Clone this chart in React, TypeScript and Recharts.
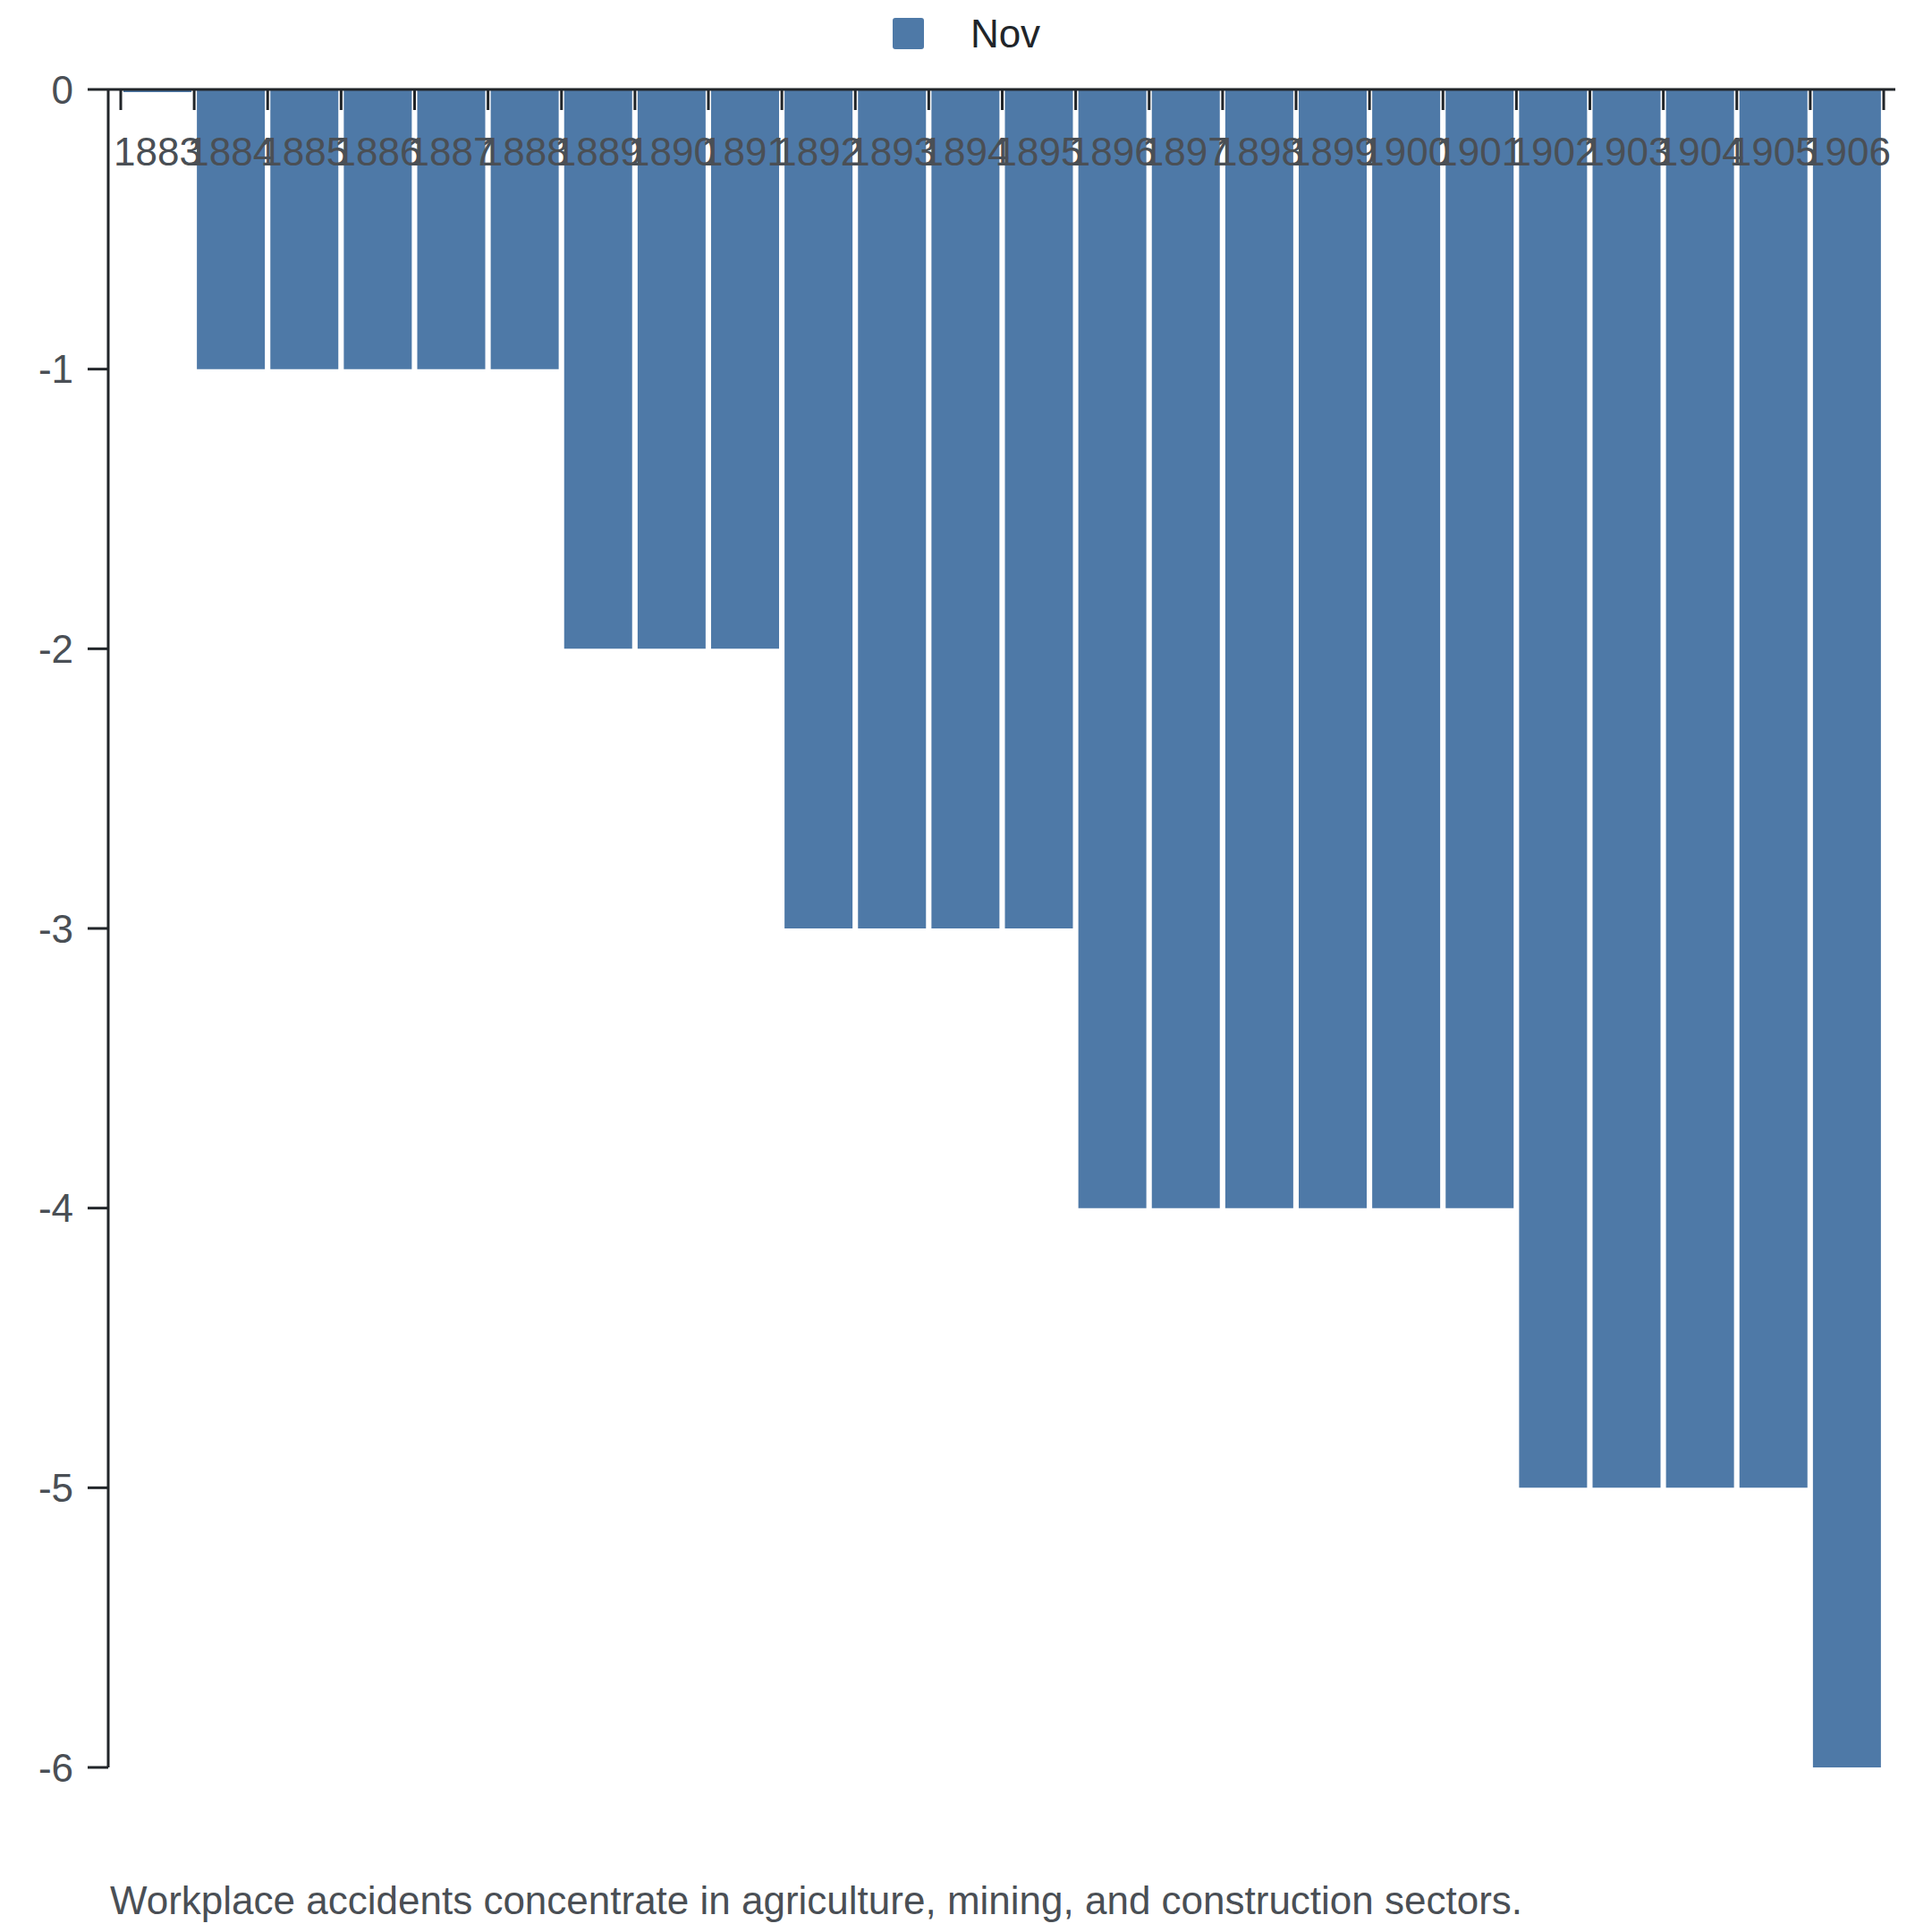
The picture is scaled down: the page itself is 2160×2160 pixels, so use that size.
import React from "react";
import { BarChart, Bar, XAxis, YAxis, Legend } from "recharts";

const years = [
  "1883", "1884", "1885", "1886", "1887", "1888", "1889", "1890",
  "1891", "1892", "1893", "1894", "1895", "1896", "1897", "1898",
  "1899", "1900", "1901", "1902", "1903", "1904", "1905", "1906",
];
const novValues = [
  0, -1, -1, -1, -1, -1, -2, -2, -2, -3, -3, -3, -3, -4, -4, -4, -4, -4, -4,
  -5, -5, -5, -5, -6,
];
const yTicks = [0, -1, -2, -3, -4, -5, -6];

const data = years.map((year, i) => ({ year, Nov: novValues[i] }));

const FONT = "'Liberation Sans', Arial, Helvetica, sans-serif";
const AXIS = "#212529";
const TEXT = "#4a4f55";
const BLUE = "#4e79a7";

/** Tick marks sit on the band edges; the year is centred on the band below the axis. */
function YearTick(props: any) {
  const { x, y, payload, index } = props;
  const half = payload?.offset || 41;
  const last = index === years.length - 1;
  return (
    <g>
      <line x1={x - half} x2={x - half} y1={y} y2={y + 23} stroke={AXIS} strokeWidth={3} />
      {last && (
        <line x1={x + half} x2={x + half} y1={y} y2={y + 23} stroke={AXIS} strokeWidth={3} />
      )}
      <text x={x} y={y + 85} textAnchor="middle" fill={TEXT} fontSize={44} fontFamily={FONT}>
        {payload.value}
      </text>
    </g>
  );
}

function NovLegend() {
  return (
    <div
      style={{
        display: "flex",
        alignItems: "center",
        justifyContent: "center",
        height: 71,
        paddingLeft: 42,
        boxSizing: "border-box",
        fontFamily: FONT,
      }}
    >
      <span
        style={{ width: 35, height: 35, borderRadius: 3, background: BLUE, display: "inline-block" }}
      />
      <span style={{ marginLeft: 52, fontSize: 44, color: AXIS }}>Nov</span>
    </div>
  );
}

export default function App() {
  return (
    <div
      style={{
        position: "absolute",
        left: 0,
        top: 0,
        width: 2160,
        height: 2160,
        background: "#fff",
        fontFamily: FONT,
      }}
    >
      <BarChart
        width={2160}
        height={2160}
        data={data}
        margin={{ top: 2, right: 41, bottom: 184, left: 0 }}
        barCategoryGap={3}
        style={{ fontFamily: FONT }}
      >
        <Legend verticalAlign="top" align="center" content={<NovLegend />} />
        <YAxis
          type="number"
          domain={[-6, 0]}
          ticks={yTicks}
          width={121}
          axisLine={{ stroke: AXIS, strokeWidth: 3 }}
          tickLine={{ stroke: AXIS, strokeWidth: 3 }}
          tickSize={23}
          tickMargin={16}
          tick={{ fill: TEXT, fontSize: 44, fontFamily: FONT }}
        />
        <Bar
          dataKey="Nov"
          fill={BLUE}
          isAnimationActive={false}
          minPointSize={(v: number) => (v === 0 ? -3 : 0)}
        />
        <XAxis
          dataKey="year"
          orientation="top"
          height={27}
          interval={0}
          padding={{ left: 14, right: 13 }}
          axisLine={{ stroke: AXIS, strokeWidth: 3 }}
          tickLine={false}
          tickSize={0}
          tickMargin={0}
          tick={<YearTick />}
        />
      </BarChart>
      <div
        style={{
          position: "absolute",
          left: 123,
          top: 2103,
          fontSize: 44,
          lineHeight: 1,
          color: TEXT,
          whiteSpace: "nowrap",
        }}
      >
        Workplace accidents concentrate in agriculture, mining, and construction sectors.
      </div>
    </div>
  );
}
